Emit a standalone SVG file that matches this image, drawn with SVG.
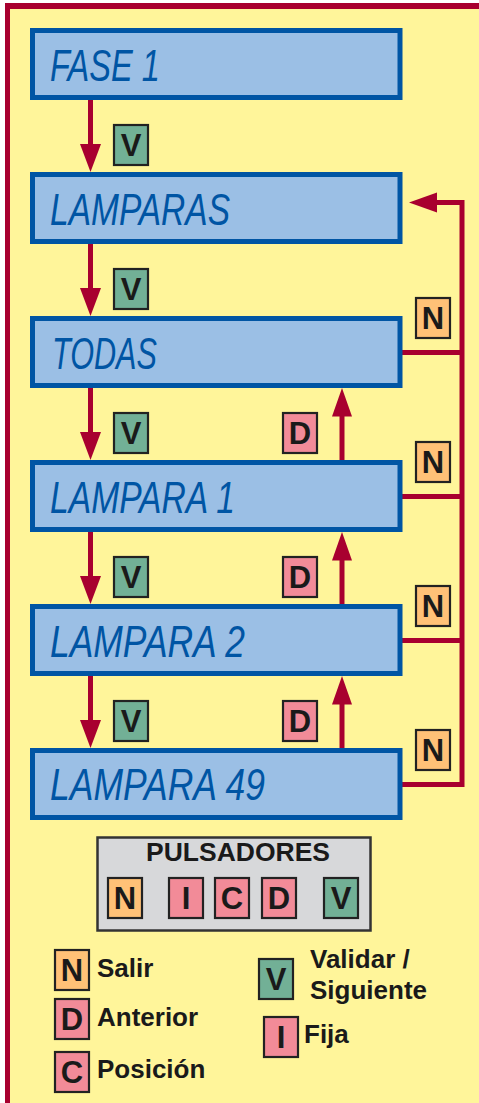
<svg xmlns="http://www.w3.org/2000/svg" width="479" height="1103" viewBox="0 0 479 1103">
<style>
.lcd{fill:#9BBFE5;stroke:#0055A4;stroke-width:5}
.lcdt{font-family:"Liberation Sans",Arial,sans-serif;font-style:italic;font-size:44px;fill:#0055A4}
.bd{stroke:#222;stroke-width:2.2}
.v{fill:#72B096}.d{fill:#F28B98}.n{fill:#FFC177}
.bt{font-family:"Liberation Sans",Arial,sans-serif;font-weight:bold;font-size:31px;fill:#1a1a1a;text-anchor:middle}
.lt{font-family:"Liberation Sans",Arial,sans-serif;font-weight:bold;font-size:26px;fill:#1a1a1a}
.ln{stroke:#A8002F;stroke-width:5;fill:none}
.ah{fill:#A8002F}
</style>
<rect x="0" y="0" width="479" height="1103" fill="#fff"/>
<rect x="5" y="3" width="474" height="1100" fill="#A8002F"/>
<rect x="10" y="9" width="469" height="1094" fill="#FFF59A"/>

<g id="connectors">
  <line class="ln" x1="90.5" y1="100" x2="90.5" y2="146"/><polygon class="ah" points="80,144 101,144 90.5,172"/>
  <line class="ln" x1="90.5" y1="244" x2="90.5" y2="290"/><polygon class="ah" points="80,288 101,288 90.5,316"/>
  <line class="ln" x1="90.5" y1="388" x2="90.5" y2="434"/><polygon class="ah" points="80,432 101,432 90.5,460"/>
  <line class="ln" x1="90.5" y1="532" x2="90.5" y2="578"/><polygon class="ah" points="80,576 101,576 90.5,604"/>
  <line class="ln" x1="90.5" y1="676" x2="90.5" y2="722"/><polygon class="ah" points="80,720 101,720 90.5,748"/>
  <line class="ln" x1="342" y1="460" x2="342" y2="414"/><polygon class="ah" points="332,416.5 352,416.5 342,388"/>
  <line class="ln" x1="342" y1="604" x2="342" y2="558"/><polygon class="ah" points="332,560.5 352,560.5 342,532"/>
  <line class="ln" x1="342" y1="748" x2="342" y2="702"/><polygon class="ah" points="332,704.5 352,704.5 342,676"/>
  <polyline class="ln" points="402,352.5 462,352.5"/>
  <polyline class="ln" points="402,496.5 462,496.5"/>
  <polyline class="ln" points="402,640.5 462,640.5"/>
  <polyline class="ln" points="402,784.5 462,784.5 462,202.5 435,202.5"/>
  <polygon class="ah" points="437,192.5 437,212.5 409,202.5"/>
</g>

<g id="fase1"><rect class="lcd" x="32.5" y="30.5" width="367.5" height="67"/><text class="lcdt" x="50" y="81" textLength="110" lengthAdjust="spacingAndGlyphs">FASE 1</text></g>
<g id="lamparas"><rect class="lcd" x="32.5" y="174.5" width="367.5" height="67"/><text class="lcdt" x="50" y="225" textLength="180" lengthAdjust="spacingAndGlyphs">LAMPARAS</text></g>
<g id="todas"><rect class="lcd" x="32.5" y="318.5" width="367.5" height="67"/><text class="lcdt" x="52" y="369" textLength="105" lengthAdjust="spacingAndGlyphs">TODAS</text></g>
<g id="lampara1"><rect class="lcd" x="32.5" y="462.5" width="367.5" height="67"/><text class="lcdt" x="50" y="513" textLength="185" lengthAdjust="spacingAndGlyphs">LAMPARA 1</text></g>
<g id="lampara2"><rect class="lcd" x="32.5" y="606.5" width="367.5" height="67"/><text class="lcdt" x="50" y="657" textLength="195" lengthAdjust="spacingAndGlyphs">LAMPARA 2</text></g>
<g id="lampara49"><rect class="lcd" x="32.5" y="750.5" width="367.5" height="67"/><text class="lcdt" x="50" y="800" textLength="215" lengthAdjust="spacingAndGlyphs">LAMPARA 49</text></g>

<g id="badges">
  <g><rect class="bd v" x="114" y="125" width="34" height="40"/><text class="bt" x="131" y="156">V</text></g>
  <g><rect class="bd v" x="114" y="269" width="34" height="40"/><text class="bt" x="131" y="300">V</text></g>
  <g><rect class="bd v" x="114" y="413" width="34" height="40"/><text class="bt" x="131" y="444">V</text></g>
  <g><rect class="bd v" x="114" y="557" width="34" height="40"/><text class="bt" x="131" y="588">V</text></g>
  <g><rect class="bd v" x="114" y="701" width="34" height="40"/><text class="bt" x="131" y="732">V</text></g>
  <g><rect class="bd d" x="283" y="413" width="34" height="40"/><text class="bt" x="300" y="444">D</text></g>
  <g><rect class="bd d" x="283" y="557" width="34" height="40"/><text class="bt" x="300" y="588">D</text></g>
  <g><rect class="bd d" x="283" y="701" width="34" height="40"/><text class="bt" x="300" y="732">D</text></g>
  <g><rect class="bd n" x="416" y="298" width="34" height="40"/><text class="bt" x="433" y="329">N</text></g>
  <g><rect class="bd n" x="416" y="442" width="34" height="40"/><text class="bt" x="433" y="473">N</text></g>
  <g><rect class="bd n" x="416" y="586" width="34" height="40"/><text class="bt" x="433" y="617">N</text></g>
  <g><rect class="bd n" x="416" y="730" width="34" height="40"/><text class="bt" x="433" y="761">N</text></g>
</g>

<g id="pulsadores">
  <rect x="97.5" y="837.5" width="273" height="93" fill="#D7D8DA" stroke="#333" stroke-width="2.5"/>
  <text x="238" y="861" font-family="Liberation Sans, Arial, sans-serif" font-weight="bold" font-size="26.5" fill="#1a1a1a" text-anchor="middle">PULSADORES</text>
  <rect class="bd n" x="108" y="878" width="34" height="40"/><text class="bt" x="125" y="909">N</text>
  <rect class="bd d" x="169" y="878" width="34" height="40"/><text class="bt" x="186" y="909">I</text>
  <rect class="bd d" x="215" y="878" width="34" height="40"/><text class="bt" x="232" y="909">C</text>
  <rect class="bd d" x="262" y="878" width="34" height="40"/><text class="bt" x="279" y="909">D</text>
  <rect class="bd v" x="324" y="878" width="34" height="40"/><text class="bt" x="341" y="909">V</text>
</g>

<g id="legend">
  <rect class="bd n" x="55" y="950" width="34" height="40"/><text class="bt" x="72" y="981">N</text><text class="lt" x="97" y="977">Salir</text>
  <rect class="bd d" x="55" y="999" width="34" height="40"/><text class="bt" x="72" y="1030">D</text><text class="lt" x="97" y="1026">Anterior</text>
  <rect class="bd d" x="55" y="1052" width="34" height="40"/><text class="bt" x="72" y="1083">C</text><text class="lt" x="97" y="1078">Posición</text>
  <rect class="bd v" x="259" y="959" width="34" height="40"/><text class="bt" x="276" y="990">V</text><text class="lt" x="310" y="968">Validar /</text><text class="lt" x="310" y="999">Siguiente</text>
  <rect class="bd d" x="264" y="1017" width="34" height="40"/><text class="bt" x="281" y="1048">I</text><text class="lt" x="304" y="1043">Fija</text>
</g>
</svg>
